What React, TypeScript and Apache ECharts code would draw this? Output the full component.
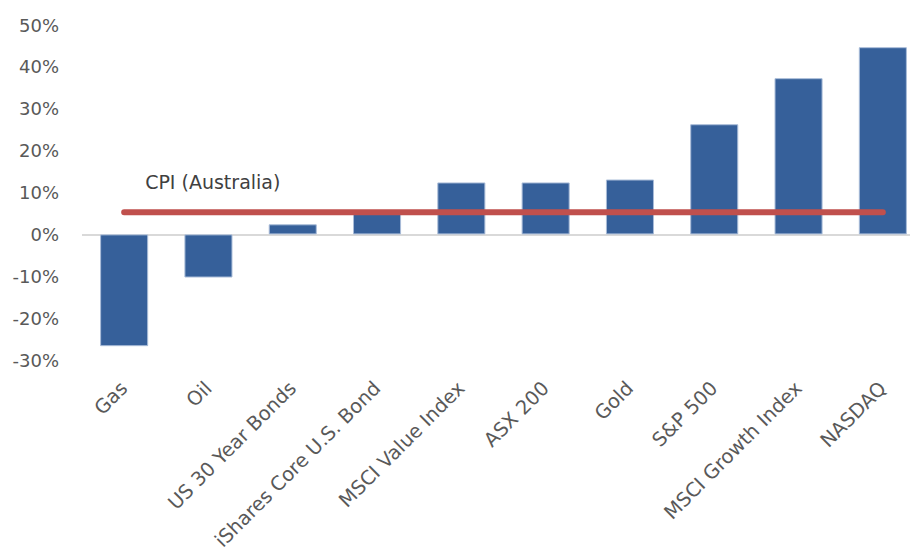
import React, { useEffect, useRef } from "react";
import * as echarts from "echarts";

const categories = [
  "Gas",
  "Oil",
  "US 30 Year Bonds",
  "iShares Core U.S. Bond",
  "MSCI Value Index",
  "ASX 200",
  "Gold",
  "S&P 500",
  "MSCI Growth Index",
  "NASDAQ",
];
const returns = [-26.7, -10.3, 2.4, 5.0, 12.4, 12.4, 13.1, 26.3, 37.3, 44.7];
const cpiValue = 5.3;
const cpiLine = categories.map(() => cpiValue);
const cpiLabel = "CPI (Australia)";
const yMin = -30;
const yMax = 50;
const yInterval = 10;

const FONT = "DejaVu Sans";

export default function App() {
  const ref = useRef<HTMLDivElement>(null);
  useEffect(() => {
    if (!ref.current) return;
    const chart = echarts.init(ref.current, undefined, { renderer: "svg" });
    chart.setOption({
      animation: false,
      backgroundColor: "#ffffff",
      grid: {
        left: 82,
        right: 0,
        top: 25,
        bottom: 187,
        containLabel: false,
        outerBoundsMode: "none",
      },
      xAxis: {
        type: "category",
        data: categories,
        axisLine: { show: false },
        axisTick: { show: false },
        axisLabel: {
          rotate: 45,
          interval: 0,
          margin: 25,
          color: "#595959",
          fontFamily: FONT,
          fontSize: 19.5,
        },
        splitLine: { show: false },
      },
      yAxis: {
        type: "value",
        min: yMin,
        max: yMax,
        interval: yInterval,
        axisLine: { show: false },
        axisTick: { show: false },
        splitLine: { show: false },
        axisLabel: {
          margin: 23,
          color: "#595959",
          fontFamily: FONT,
          fontSize: 18,
          formatter: (v: number) => `${v}%`,
        },
      },
      series: [
        {
          type: "bar",
          data: returns,
          barCategoryGap: "43%",
          itemStyle: { color: "#36609A", borderColor: "#A9BCD8", borderWidth: 1 },
          markLine: {
            silent: true,
            symbol: ["none", "none"],
            label: { show: false },
            lineStyle: { color: "#D9D9D9", width: 2, type: "solid" },
            data: [{ yAxis: 0 }],
            z: 1,
          },
          z: 2,
        },
        {
          type: "line",
          data: cpiLine.map((v, i) =>
            i === 0
              ? {
                  value: v,
                  label: {
                    show: true,
                    formatter: cpiLabel,
                    position: "right",
                    offset: [16, -30],
                    color: "#404040",
                    fontFamily: FONT,
                    fontSize: 19,
                  },
                }
              : v
          ),
          showSymbol: true,
          symbol: "circle",
          symbolSize: 0,
          itemStyle: { color: "#C0504D" },
          lineStyle: { color: "#C0504D", width: 6, cap: "round" },
          z: 3,
        },
      ],
    });
    return () => chart.dispose();
  }, []);
  return (
    <div style={{ position: "absolute", left: 0, top: 0, width: 910, height: 547, overflow: "hidden" }}>
      <div ref={ref} style={{ width: 925, height: 547 }} />
    </div>
  );
}
